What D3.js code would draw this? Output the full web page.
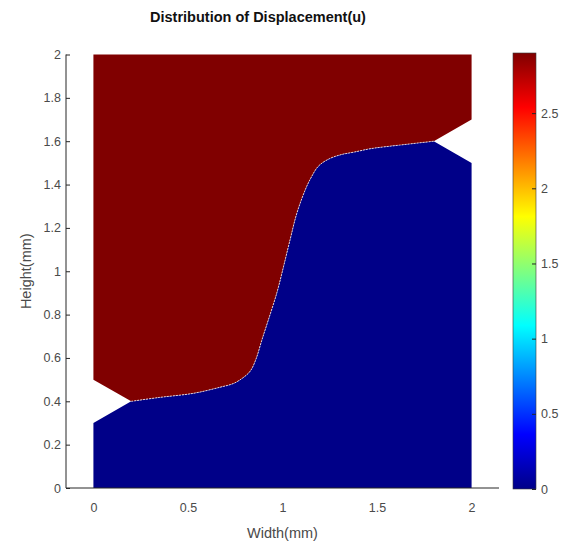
<!DOCTYPE html>
<html>
<head>
<meta charset="utf-8">
<script src="https://cdn.jsdelivr.net/npm/d3@7"></script>
<style>
  body { margin: 0; background: #fff; }
  text { font-family: "Liberation Sans", Arial, sans-serif; }
</style>
</head>
<body>
<div id="chart"></div>
<script>
// data (mm)
var interfaceX = [0.2, 0.35, 0.53, 0.67, 0.74, 0.79, 0.83, 0.86, 0.89, 0.925, 0.97, 1.005, 1.04, 1.075, 1.12, 1.15, 1.19, 1.25, 1.31, 1.38, 1.47, 1.62, 1.8];
var interfaceY = [0.4, 0.418, 0.437, 0.465, 0.482, 0.508, 0.54, 0.595, 0.68, 0.775, 0.9, 1.02, 1.145, 1.265, 1.375, 1.43, 1.485, 1.52, 1.538, 1.55, 1.566, 1.582, 1.6];

// outer corners of each region, from the right notch round to the left notch
var upperX = [2, 2, 0, 0];
var upperY = [1.7, 2, 2, 0.5];
var lowerX = [2, 2, 0, 0];
var lowerY = [1.5, 0, 0, 0.3];

var regionValues = [2.9, 0]; // upper, lower
var colorMax = 2.9;

var xTicks = [0, 0.5, 1, 1.5, 2];
var yTicks = [0, 0.2, 0.4, 0.6, 0.8, 1, 1.2, 1.4, 1.6, 1.8, 2];
var cTicks = [0, 0.5, 1, 1.5, 2, 2.5];

// jet colormap
var jetPos = [0, 0.125, 0.375, 0.625, 0.875, 1];
var jetColors = ["#000088", "#0000ff", "#00ffff", "#ffff00", "#ff0000", "#800000"];

var svgWidth = 570;
var svgHeight = 549;

var svg = d3.select("#chart")
  .append("svg")
  .attr("width", svgWidth)
  .attr("height", svgHeight);

var x = d3.scaleLinear().domain([-0.145, 2.145]).range([66, 499]);
var y = d3.scaleLinear().domain([0, 2]).range([488, 54.5]);
var cy = d3.scaleLinear().domain([0, colorMax]).range([489, 53]);
var jet = d3.scaleLinear()
  .domain(jetPos.map(p => p * colorMax))
  .range(jetColors);

var axisColor = "#262626";
var labelColor = "#4a4a4a";

// regions: smooth interface, then straight outer edges
var curve = interfaceX.map((d, i) => [d, interfaceY[i]]);
var smooth = d3.line().x(d => x(d[0])).y(d => y(d[1])).curve(d3.curveCatmullRom);

function regionPath(ox, oy) {
  var p = smooth(curve);
  ox.forEach(function(d, i) {
    p += "L" + x(d) + "," + y(oy[i]);
  });
  return p + "Z";
}

svg.append("path")
  .attr("d", regionPath(upperX, upperY))
  .attr("fill", jet(regionValues[0]));

svg.append("path")
  .attr("d", regionPath(lowerX, lowerY))
  .attr("fill", jet(regionValues[1]));

// light seam along the interface
svg.append("path")
  .attr("d", smooth(curve))
  .attr("fill", "none")
  .attr("stroke", "#e6d2d2")
  .attr("stroke-width", 1)
  .attr("stroke-dasharray", "2,1");

// y axis
var yAxis = svg.append("g")
  .attr("transform", `translate(${x(-0.145)},0)`)
  .call(d3.axisRight(y).tickValues(yTicks).tickSize(4).tickFormat(d3.format("")));
yAxis.select(".domain").attr("d", `M0,${y(2)}V${y(0)}`).attr("stroke", axisColor);
yAxis.selectAll(".tick line").attr("stroke", axisColor);
yAxis.selectAll(".tick text")
  .attr("x", -5)
  .attr("text-anchor", "end")
  .attr("fill", labelColor)
  .style("font-size", "12.5px");

// x axis
var xAxis = svg.append("g")
  .attr("transform", `translate(0,${y(0)})`)
  .call(d3.axisBottom(x).tickValues(xTicks).tickSize(0).tickFormat(d3.format("")));
xAxis.select(".domain").attr("d", `M${x(-0.145)},0H${x(2.145)}`).attr("stroke", axisColor);
xAxis.selectAll(".tick text")
  .attr("y", 15)
  .attr("fill", labelColor)
  .style("font-size", "12.5px");

// axis labels
svg.append("text")
  .attr("x", x(1))
  .attr("y", 538)
  .attr("text-anchor", "middle")
  .attr("fill", labelColor)
  .style("font-size", "14.5px")
  .text("Width(mm)");

svg.append("text")
  .attr("transform", `translate(31,${(y(0) + y(2)) / 2}) rotate(-90)`)
  .attr("text-anchor", "middle")
  .attr("fill", labelColor)
  .style("font-size", "14.5px")
  .text("Height(mm)");

// title
svg.append("text")
  .attr("x", 258)
  .attr("y", 22)
  .attr("text-anchor", "middle")
  .attr("fill", "#111")
  .style("font-size", "14.5px")
  .style("font-weight", "bold")
  .text("Distribution of Displacement(u)");

// colorbar
var cbX = 513, cbW = 23;
var grad = svg.append("defs").append("linearGradient")
  .attr("id", "jetGrad")
  .attr("x1", 0).attr("y1", 1).attr("x2", 0).attr("y2", 0);
grad.selectAll("stop")
  .data(jetPos)
  .enter()
  .append("stop")
  .attr("offset", d => d)
  .attr("stop-color", (d, i) => jetColors[i]);

svg.append("rect")
  .attr("x", cbX)
  .attr("y", cy(colorMax))
  .attr("width", cbW)
  .attr("height", cy(0) - cy(colorMax))
  .attr("fill", "url(#jetGrad)")
  .attr("stroke", "#3a3a3a")
  .attr("stroke-width", 0.6);

var cAxis = svg.append("g")
  .attr("transform", `translate(${cbX + cbW},0)`)
  .call(d3.axisLeft(cy).tickValues(cTicks).tickSize(4).tickFormat(d3.format("")));
cAxis.select(".domain").remove();
cAxis.selectAll(".tick line").attr("stroke", axisColor);
cAxis.selectAll(".tick text")
  .attr("x", 5)
  .attr("text-anchor", "start")
  .attr("fill", labelColor)
  .style("font-size", "12.5px");
</script>
</body>
</html>
